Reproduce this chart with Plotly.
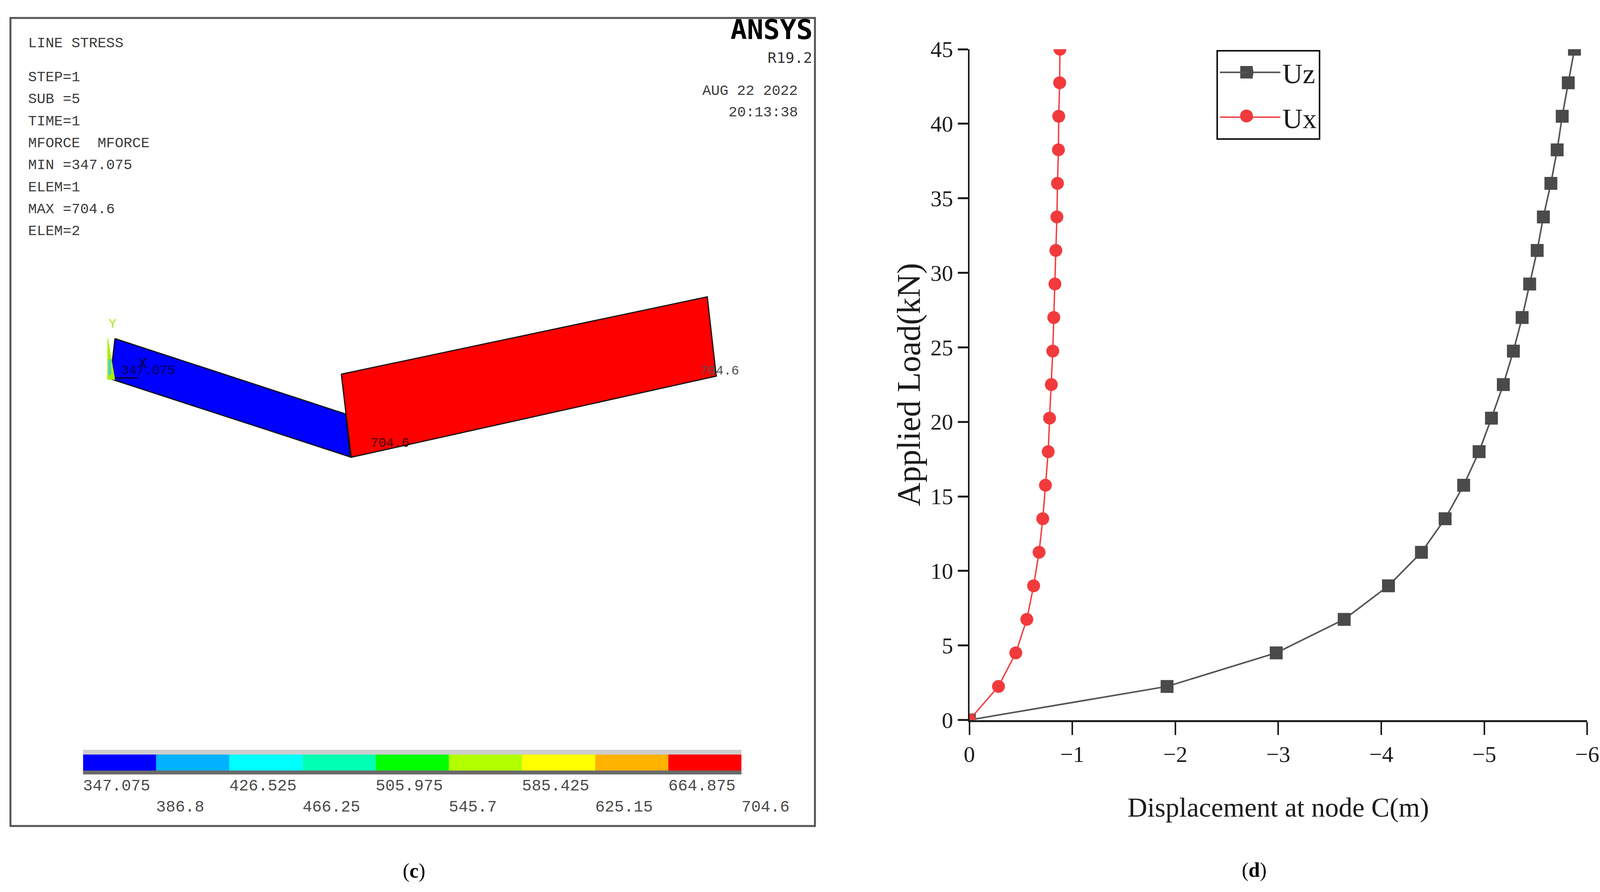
import plotly.graph_objects as go

# Reference size: overlay axes use these units, so placement follows the window size.
W, H = 5513, 2284

# ---- panel (d): load-displacement curves ----
load = [0, 2.25, 4.5, 6.75, 9, 11.25, 13.5, 15.75, 18, 20.25, 22.5, 24.75, 27,
        29.25, 31.5, 33.75, 36, 38.25, 40.5, 42.75, 45]
uz = [0, -1.92, -2.98, -3.64, -4.07, -4.39, -4.62, -4.80, -4.95, -5.07, -5.185,
      -5.283, -5.368, -5.441, -5.514, -5.574, -5.647, -5.708, -5.757, -5.816, -5.876]
ux = [0, -0.283, -0.451, -0.558, -0.624, -0.677, -0.713, -0.739, -0.766, -0.779, -0.796,
      -0.81, -0.82, -0.831, -0.84, -0.85, -0.856, -0.865, -0.868, -0.877, -0.88]
x_ticks = [0, -1, -2, -3, -4, -5, -6]
y_ticks = [0, 5, 10, 15, 20, 25, 30, 35, 40, 45]

# ---- panel (c): ANSYS contour plot ----
levels = [347.075, 386.8, 426.525, 466.25, 505.975, 545.7, 585.425, 625.15, 664.875, 704.6]
level_labels = ["347.075", "386.8", "426.525", "466.25", "505.975", "545.7",
                "585.425", "625.15", "664.875", "704.6"]
level_colors = ["#0000FF", "#00B2FF", "#00FFFF", "#00FFB2", "#00FF00",
                "#B2FF00", "#FFFF00", "#FFB200", "#FF0000"]
elem1_x = [396, 380, 1207, 1191, 396]
elem1_y = [867, 970, 1170, 1060, 867]
elem2_x = [1176, 1210, 2468, 2437, 1176]
elem2_y = [958, 1171, 963, 760, 958]
triad_x = [371, 370, 396, 371]
triad_y = [865, 972, 972, 865]
info_lines = ["LINE STRESS", "STEP=1", "SUB =5", "TIME=1", "MFORCE  MFORCE",
              "MIN =347.075", "ELEM=1", "MAX =704.6", "ELEM=2"]
info_rows = [111, 198, 254, 311, 367, 423, 480, 536, 592]

SERIF = "Liberation Serif"
MONO = "Liberation Mono"
DJV = "DejaVu Sans Mono"
INK = "#1c1c1c"
GREY = "#4a4a4a"
RED = "#F23A3C"

fig = go.Figure()

# ---- curves on the real axes ----
fig.add_trace(go.Scatter(x=uz, y=load, name="Uz", legendgroup="Uz", mode="lines+markers",
                         line=dict(color="#555555", width=4),
                         marker=dict(symbol="square", size=33, color=GREY, line=dict(width=0))))
fig.add_trace(go.Scatter(x=ux, y=load, name="Ux", legendgroup="Ux", mode="lines+markers",
                         line=dict(color=RED, width=3.5),
                         marker=dict(symbol="circle", size=33, color=RED, line=dict(width=0))))

def poly(xs, ys, fill, line="#111111", lw=3):
    fig.add_trace(go.Scatter(x=xs, y=ys, xaxis="x3", yaxis="y3", mode="lines", fill="toself",
                             fillcolor=fill, line=dict(color=line, width=lw),
                             showlegend=False, hoverinfo="skip"))

poly(elem1_x, elem1_y, "#0000FF")
poly(elem2_x, elem2_y, "#FF0000")
poly(triad_x, triad_y, "#A8F000", line="#A8F000", lw=1)
fig.add_trace(go.Scatter(x=[378, 378], y=[920, 960], xaxis="x3", yaxis="y3", mode="lines",
                         line=dict(color="#40D0F0", width=6), showlegend=False, hoverinfo="skip"))
fig.add_trace(go.Scatter(x=[396, 476], y=[968, 968], xaxis="x3", yaxis="y3", mode="lines",
                         line=dict(color="#000050", width=4), showlegend=False, hoverinfo="skip"))

# enlarged legend keys (native legend keys are capped in size)
fig.add_trace(go.Scatter(x=[4295], y=[185], xaxis="x3", yaxis="y3", mode="markers",
                         marker=dict(symbol="square", size=32, color=GREY),
                         showlegend=False, hoverinfo="skip"))
fig.add_trace(go.Scatter(x=[4295], y=[297], xaxis="x3", yaxis="y3", mode="markers",
                         marker=dict(symbol="circle", size=33, color=RED),
                         showlegend=False, hoverinfo="skip"))

# ---- contour bar ----
fig.add_trace(go.Bar(y=[1952.5] * 9, x=[b - a for a, b in zip(levels[:-1], levels[1:])],
                     base=levels[:-1], width=41, orientation="h", xaxis="x4", yaxis="y3",
                     marker=dict(color=level_colors, line=dict(width=0)),
                     showlegend=False, hoverinfo="skip"))
fig.add_trace(go.Scatter(x=levels, y=[2014 if i % 2 == 0 else 2068 for i in range(len(levels))],
                         text=level_labels, xaxis="x4", yaxis="y3", mode="text",
                         textposition="middle right", cliponaxis=False,
                         textfont=dict(family=MONO, size=41, color="#4a4a4a"),
                         showlegend=False, hoverinfo="skip"))

def note(txt, x, y, size, family=MONO, color="#3c3c3c", anchor="left"):
    return dict(text=txt, x=x, y=y, xref="x3", yref="y3", xanchor=anchor, yanchor="middle",
                showarrow=False, font=dict(family=family, size=size, color=color))

anns = [note(t, 94, r, 37) for t, r in zip(info_lines, info_rows)]
anns += [
    note("<b>ANSYS</b>", 2803, 76, 70, DJV, "#000000", "right"),
    note("R19.2", 2801, 148, 38, DJV, "#333333", "right"),
    note("AUG 22 2022", 2417, 233, 37),
    note("20:13:38", 2508, 288, 37),
    note("Y", 372, 830, 34, MONO, "#A8E820"),
    note("X", 474, 931, 38, MONO, "#000040"),
    note("347.075", 415, 949, 33, MONO, "#000050"),
    note("704.6", 1275, 1135, 33, MONO, "#400000"),
    note("704.6", 2410, 950, 33, MONO, "#505050"),
    note("(<b>c</b>)", 1427, 2230, 52, SERIF, "#000000", "center"),
    note("(<b>d</b>)", 4322, 2228, 52, SERIF, "#000000", "center"),
]

shapes = [
    dict(type="rect", xref="x3", yref="y3", x0=36, x1=2808, y0=46, y1=2115,
         line=dict(color="#555555", width=5), fillcolor="rgba(0,0,0,0)", layer="below"),
    dict(type="rect", xref="x3", yref="y3", x0=286, x1=2555, y0=1920, y1=1932,
         line=dict(width=0), fillcolor="#CDCDCD", layer="below"),
    dict(type="rect", xref="x3", yref="y3", x0=286, x1=2555, y0=1973, y1=1983,
         line=dict(width=0), fillcolor="#6a6a6a", layer="below"),
]

axis_font = dict(family=SERIF, size=58, color=INK)
fig.update_layout(
    autosize=True, margin=dict(l=0, r=0, t=0, b=0, pad=0, autoexpand=False),
    paper_bgcolor="white", plot_bgcolor="rgba(0,0,0,0)", showlegend=True, barmode="overlay",
    annotations=anns, shapes=shapes,
    legend=dict(x=4191 / W, y=1 - 128 / H, xanchor="left", yanchor="top",
                bgcolor="rgba(0,0,0,0)", bordercolor="#111111", borderwidth=4,
                font=dict(family=SERIF, size=72, color=INK), itemwidth=155,
                tracegroupgap=18),
    xaxis=dict(domain=[3340 / W, 5469 / W], range=[0, -6], tickvals=x_ticks, anchor="y",
               showgrid=False, zeroline=False, showline=True, linecolor=INK, linewidth=5,
               ticks="outside", ticklen=33, tickwidth=4, tickcolor=INK, tickfont=axis_font,
               title=dict(text="Displacement at node C(m)", standoff=80,
                          font=dict(family=SERIF, size=70, color=INK))),
    yaxis=dict(domain=[1 - 1843.5 / H, 1 - 126 / H], range=[0, 45], tickvals=y_ticks, anchor="x",
               showgrid=False, zeroline=False, showline=True, linecolor=INK, linewidth=4,
               ticks="outside", ticklen=26, tickwidth=5, tickcolor=INK, tickfont=axis_font,
               title=dict(text="Applied Load(kN)", standoff=0,
                          font=dict(family=SERIF, size=84, color=INK))),
    xaxis3=dict(domain=[0, 1], range=[0, W], visible=False, anchor="y3", fixedrange=True),
    yaxis3=dict(domain=[0, 1], range=[H, 0], visible=False, anchor="x3", fixedrange=True),
    xaxis4=dict(domain=[286 / W, 2555 / W], range=[levels[0], levels[-1]], visible=False,
                anchor="y3", fixedrange=True),
)

fig.write_html("out.html", default_width="100vw", default_height="100vh",
               config={"responsive": True, "displayModeBar": False},
               post_script="document.body.style.margin='0';document.body.style.overflow='hidden';"
                           "Plotly.Plots.resize(document.getElementById('{plot_id}'));")
